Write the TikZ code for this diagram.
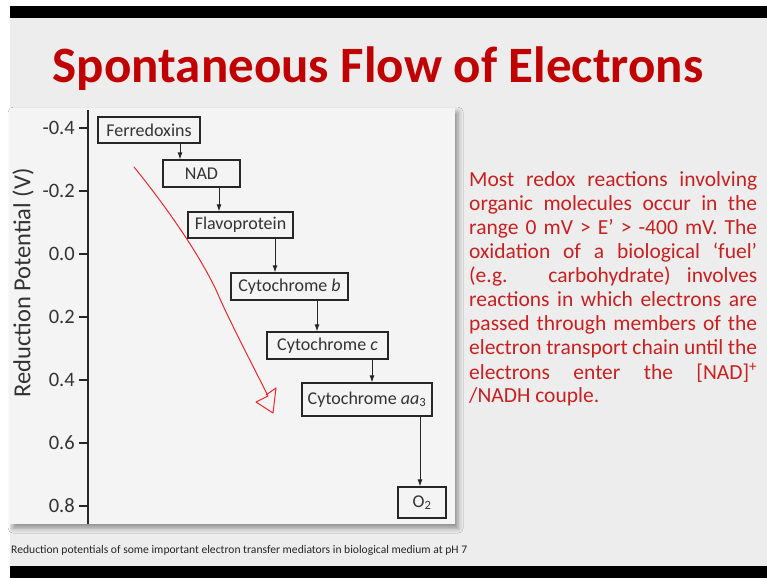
\documentclass[tikz,border=0pt]{standalone}
\usepackage{fontspec}
\setmainfont{Carlito}
\usetikzlibrary{arrows.meta,shadows.blur}
\definecolor{slidebg}{RGB}{237,237,237}
\definecolor{panelbg}{RGB}{244,244,244}
\definecolor{titlered}{RGB}{192,0,0}
\definecolor{bodyred}{RGB}{200,32,32}
\definecolor{penred}{RGB}{235,40,45}
\begin{document}
\begin{tikzpicture}[x=1pt,y=-1pt,
  chainbox/.style={draw=black!85,line width=1.3pt,inner sep=0pt,font=\fontsize{18}{20}\selectfont,text=black!80},
  flow/.style={-{Latex[length=7pt,width=5pt]},line width=0.9pt,draw=black!85},
  tick/.style={line width=1.3pt,draw=black!85},
  ticklabel/.style={anchor=east,font=\fontsize{20.5}{22}\selectfont,text=black!80,inner sep=0pt},
  bodyline/.style={anchor=north west,inner sep=0pt,font=\fontsize{21.5}{24}\selectfont,text=bodyred}]
\useasboundingbox (0,0) rectangle (767,578);
% slide background and bars
\fill[white] (0,0) rectangle (767,578);
\fill[slidebg] (10,18) rectangle (767,566);
\fill[black] (10,6) rectangle (767,18);
\fill[black] (10,566) rectangle (767,578);
% title
\node[font=\fontsize{51}{60}\bfseries\selectfont,text=titlered,inner sep=0pt] (title) at (378,69) {Spontaneous Flow of Electrons};
% panel
\node[fill=panelbg,minimum width=445pt,minimum height=416pt,inner sep=0pt,anchor=north west,
  blur shadow={shadow xshift=3pt,shadow yshift=-4pt,shadow blur radius=5pt,shadow opacity=40}] (panel) at (10,108) {};
% axis
\coordinate (axtop) at (88,110);
\coordinate (axbot) at (88,524);
\draw[tick] (axtop) -- (axbot);
\foreach \v/\yy/\nm in {-0.4/128/a,-0.2/191/b,0.0/254/c,0.2/317/d,0.4/380/e,0.6/443/f,0.8/506/g}{
  \coordinate (t\nm) at (88,\yy);
  \draw[tick] (t\nm) -- ++(-9,0) coordinate (l\nm);
  \node[ticklabel] (lab\nm) at ([xshift=-4pt]l\nm) {\v};
}
\node[rotate=90,font=\fontsize{24.5}{26}\selectfont,text=black!80,inner sep=0pt] (ylab) at (23,283) {Reduction Potential (V)};
% boxes
\node[chainbox,minimum width=102pt,minimum height=26pt] (ferr) at (149,130) {Ferredoxins};
\node[chainbox,minimum width=77pt,minimum height=27pt] (nad) at (201.5,173.5) {NAD};
\node[chainbox,minimum width=105pt,minimum height=26pt] (flav) at (240.5,225) {Flavoprotein};
\node[chainbox,minimum width=117pt,minimum height=27pt] (cytb) at (289.5,286.5) {Cytochrome \textit{b}};
\node[chainbox,minimum width=121pt,minimum height=27pt] (cytc) at (327.5,345.5) {Cytochrome \textit{c}};
\node[chainbox,minimum width=130pt,minimum height=33pt] (cyta) at (367,399.5) {Cytochrome \textit{aa}\textsubscript{3}};
\node[chainbox,minimum width=48pt,minimum height=31pt] (otwo) at (422,502.5) {O\textsubscript{2}};
% connectors
\draw[flow] (ferr.south -| 180,0) -- (nad.north -| 180,0);
\draw[flow] (nad.south -| 219,0) -- (flav.north -| 219,0);
\draw[flow] (flav.south -| 275,0) -- (cytb.north -| 275,0);
\draw[flow] (cytb.south -| 317,0) -- (cytc.north -| 317,0);
\draw[flow] (cytc.south -| 372,0) -- (cyta.north -| 372,0);
\draw[flow] (cyta.south -| 420,0) -- (otwo.north -| 420,0);
% hand drawn arrow
\draw[penred,line width=1pt,line cap=round,line join=round] (134,167) .. controls (165,205) and (200,255) .. (217,292)
  .. controls (228,318) and (250,360) .. (268,396);
\draw[penred,line width=1pt,line join=round] (268,396) -- (256,402) -- (273,413) -- (276,388) -- (266,395);
% body text
\begin{scope}[every node/.style={bodyline}]
\node (p1) at (469,171) {\makebox[288pt][s]{Most redox reactions involving}};
\node (p2) at (469,195) {\makebox[288pt][s]{organic molecules occur in the}};
\node (p3) at (469,219) {\makebox[288pt][s]{range 0 mV > E’ > -400 mV. The}};
\node (p4) at (469,243) {\makebox[288pt][s]{oxidation of a biological ‘fuel’}};
\node (p5) at (469,267) {\makebox[288pt][s]{(e.g. carbohydrate) involves}};
\node (p6) at (469,291) {\makebox[288pt][s]{reactions in which electrons are}};
\node (p7) at (469,315) {\makebox[288pt][s]{passed through members of the}};
\node (p8) at (469,339) {\makebox[288pt][s]{electron transport chain until the}};
\node (p9) at (469,363) {\makebox[288pt][s]{electrons enter the [NAD]\textsuperscript{+}}};
\node (p10) at (469,387) {/NADH couple.};
\end{scope}
% caption
\node[anchor=west,inner sep=0pt,font=\fontsize{11.6}{14}\selectfont,text=black!85] (cap) at (11,550) {Reduction potentials of some important electron transfer mediators in biological medium at pH 7};
\end{tikzpicture}
\end{document}
